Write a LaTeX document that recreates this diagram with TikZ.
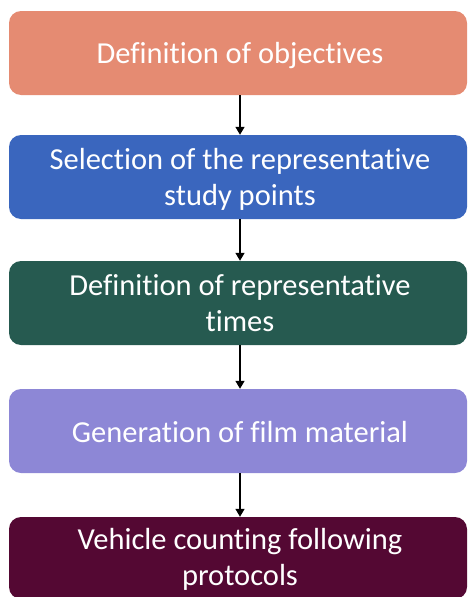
\documentclass[tikz,border=0pt]{standalone}
\usepackage{fontspec}
\setmainfont{Carlito}[Ligatures=NoCommon]
\usetikzlibrary{arrows.meta}
\definecolor{cSalmon}{RGB}{229,139,114}
\definecolor{cBlue}{RGB}{58,102,190}
\definecolor{cGreen}{RGB}{38,90,80}
\definecolor{cLav}{RGB}{141,135,214}
\definecolor{cMaroon}{RGB}{84,8,51}
\newcommand{\tsp}{\spaceskip=0.226em\relax\xspaceskip=0.226em\relax}
\tikzset{
  stepbox/.style={rectangle, rounded corners=12pt, minimum width=458pt, minimum height=84pt,
    inner sep=0pt},
  steptext/.style={anchor=base, text width=446pt, align=center, inner sep=0pt, text=white,
    font=\fontsize{30.5}{36}\selectfont},
  flowarrow/.style={-{Triangle[length=8pt,width=9pt]}, line width=1.4pt, black}
}
\begin{document}
\begin{tikzpicture}
\useasboundingbox (0,0) rectangle (469pt,-597pt);
\node[stepbox, fill=cSalmon] (b1) at (238pt,-53pt) {};
\node[stepbox, fill=cBlue] (b2) at (238pt,-177pt) {};
\node[stepbox, fill=cGreen] (b3) at (238pt,-303pt) {};
\node[stepbox, fill=cLav] (b4) at (238pt,-431pt) {};
\node[stepbox, fill=cMaroon, minimum height=82pt] (b5) at (238pt,-558pt) {};
\node[steptext] (t1) at (240pt,-63pt) {\tsp Definition of objectives};
\node[steptext] (t2) at (240pt,-169pt) {\tsp Selection of the representative\\study points};
\node[steptext] (t3) at (240pt,-295pt) {\tsp Definition of representative\\times};
\node[steptext] (t4) at (240pt,-442pt) {\tsp Generation of film material};
\node[steptext] (t5) at (240pt,-549pt) {\tsp Vehicle counting following\\protocols};
\draw[flowarrow] ([xshift=2pt]b1.south) -- ([xshift=2pt]b2.north);
\draw[flowarrow] ([xshift=2pt]b2.south) -- ([xshift=2pt]b3.north);
\draw[flowarrow] ([xshift=2pt]b3.south) -- ([xshift=2pt]b4.north);
\draw[flowarrow] ([xshift=2pt]b4.south) -- ([xshift=2pt]b5.north);
\end{tikzpicture}
\end{document}
